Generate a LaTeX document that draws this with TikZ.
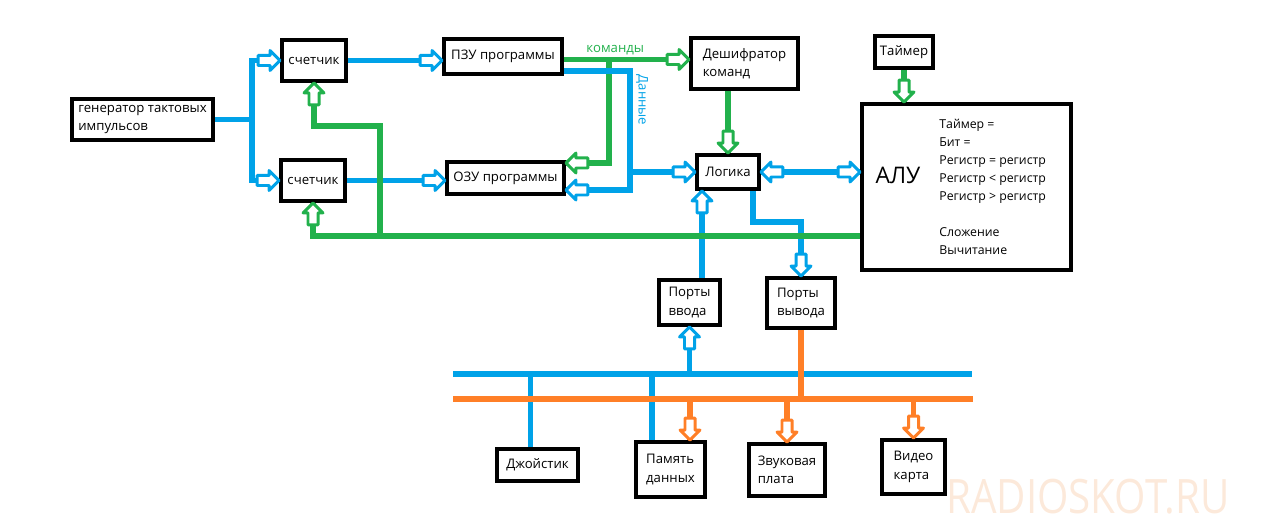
\documentclass[tikz,border=0pt]{standalone}
\usepackage{fontspec}
\setmainfont{Open Sans}
\usetikzlibrary{shapes.arrows, decorations.markings, calc}
\definecolor{lblue}{HTML}{00A2E8}
\definecolor{lgreen}{HTML}{22B14C}
\definecolor{lorange}{HTML}{FF7F27}
\definecolor{wmark}{HTML}{FCE9DA}
\newcommand{\boxfont}{\fontsize{7.5}{10.5}\selectfont}
\newcommand{\listfont}{\fontsize{7}{10.2}\selectfont}

\begin{document}
\begin{tikzpicture}[x=0.02cm, y=-0.02cm, font=\boxfont,
  block/.style={draw, line width=2.3pt, inner sep=1pt, align=left},
  pipe/.style={line width=3.2pt},
  bpipe/.style={pipe, color=lblue},
  gpipe/.style={pipe, color=lgreen},
  opipe/.style={pipe, color=lorange},
  hollowtip/.style={single arrow, transform shape, anchor=tip, fill=white,
    line width=1.7pt, line join=round, inner xsep=0pt, inner ysep=2pt,
    outer sep=0pt, single arrow head extend=2.8pt, minimum height=12.5pt,
    minimum width=0pt},
  ahead/.style={postaction={decorate, decoration={markings,
    mark=at position 1 with {\node[hollowtip, draw=#1] {};}}}},
  bhead/.style={ahead=#1, postaction={decorate, decoration={markings,
    mark=at position 0 with {\node[hollowtip, draw=#1, rotate=180] {};}}}}
]
    \useasboundingbox (0,0) rectangle (1280,523);

    % Blocks
    \node[block, minimum width=2.82cm, minimum height=0.82cm] (gen) at (142.5,119.5) {генератор тактовых\\импульсов};
    \node[block, minimum width=1.28cm, minimum height=0.82cm] (cnt1) at (314,60.5) {счетчик};
    \node[block, minimum width=1.28cm, minimum height=0.82cm] (cnt2) at (313,180.5) {счетчик};
    \node[block, minimum width=2.36cm, minimum height=0.70cm] (rom) at (503,56.5) {ПЗУ программы};
    \node[block, minimum width=2.34cm, minimum height=0.64cm] (ram) at (505.5,178) {ОЗУ программы};
    \node[block, minimum width=2.14cm, minimum height=1.02cm] (dec) at (744.5,63.5) {Дешифратор\\команд};
    \node[block, minimum width=1.16cm, minimum height=0.64cm] (timer) at (904,52) {Таймер};
    \node[block, minimum width=1.24cm, minimum height=0.68cm] (logic) at (728,172) {Логика};
    \node[block, minimum width=4.18cm, minimum height=3.32cm] (alu) at (966.5,187) {};
    \node[font=\fontsize{13}{15}\selectfont] (alutitle) at (898,175) {АЛУ};
    \node[font=\listfont, align=left, anchor=west, inner sep=0pt] (alulist) at (939,187)
        {Таймер =\\Бит =\\Регистр = регистр\\Регистр < регистр\\Регистр > регистр\\[10.2pt]Сложение\\Вычитание};

    % Ports and peripherals
    \node[block, minimum width=1.22cm, minimum height=0.90cm] (inports) at (689.5,302.5) {Порты\\ввода};
    \node[block, minimum width=1.36cm, minimum height=1.00cm] (outports) at (801,303) {Порты\\вывода};
    \node[block, minimum width=1.62cm, minimum height=0.64cm] (joy) at (537.5,465) {Джойстик};
    \node[block, minimum width=1.38cm, minimum height=1.10cm] (mem) at (670.5,469.5) {Память\\данных};
    \node[block, minimum width=1.52cm, minimum height=1.04cm] (sound) at (787,470) {Звуковая\\плата};
    \node[block, minimum width=1.26cm, minimum height=1.08cm] (video) at (913.5,467) {Видео\\карта};

    % Bus ends and taps
    \coordinate (bbL) at (453,374);
    \coordinate (bbR) at (972,374);
    \coordinate (obL) at (453,399);
    \coordinate (obR) at (973,399);
    \coordinate (fbup) at (380,126);
    \coordinate (joytap) at ($(joy.north)+(-7,0)$);
    \coordinate (memtap) at ($(mem.north)+(-18.5,0)$);
    \coordinate (memin) at ($(mem.north)+(19.5,0)$);
    \coordinate (inup) at ($(inports.north)+(12.5,0)$);

    % Commands branch (under the data line)
    \draw[gpipe, ahead=lgreen] ($(rom.east)+(0,3)$) coordinate (cmd) -- (cmd -| dec.west)
        node[pos=0.41, above, inner sep=1pt, text=lgreen] {команды};
    \draw[gpipe, ahead=lgreen] ($(cmd)+(45,0)$) |- ($(ram.east)+(0,-15)$);

    % Blue lines
    \draw[bpipe, ahead=lblue] (gen.east) -- ++(37,0) coordinate (clk) |- (cnt1);
    \draw[bpipe, ahead=lblue] (clk) |- (cnt2);
    \draw[bpipe, ahead=lblue] (cnt1.east) -- (cnt1.east -| rom.west);
    \draw[bpipe, ahead=lblue] (cnt2.east) -- (cnt2.east -| ram.west);
    \draw[bpipe, ahead=lblue] ($(rom.east)+(0,14.5)$) -- ++(66,0) coordinate (datbus) |- ($(ram.east)+(0,12)$);
    \node[rotate=-90, text=lblue] (datlbl) at (642,100) {Данные};
    \draw[bpipe, ahead=lblue] (datbus |- logic.west) -- (logic.west);
    \draw[bpipe, bhead=lblue] (logic.east) -- (logic.east -| alu.west);
    \draw[bpipe, ahead=lblue] ($(logic.south)+(25,0)$) -- ++(0,31) -| (outports.north);
    \draw[bpipe, ahead=lblue] (inup) -- (inup |- logic.south);
    \draw[bpipe] (bbL) -- (bbR);
    \draw[bpipe, ahead=lblue] (inports.south |- bbL) -- (inports.south);
    \draw[bpipe] (joytap) -- (joytap |- bbL);
    \draw[bpipe] (memtap) -- (memtap |- bbL);

    % Green lines
    \draw[gpipe, ahead=lgreen] (dec.south -| logic.north) -- (logic.north);
    \draw[gpipe, ahead=lgreen] (timer.south) -- (timer.south |- alu.north);
    \draw[gpipe, ahead=lgreen] ($(alu.west)+(0,49)$) coordinate (fb) -| (cnt2.south);
    \draw[gpipe, ahead=lgreen] (fb -| fbup) -- (fbup) -| (cnt1.south);

    % Orange lines
    \draw[opipe] (obL) -- (obR);
    \draw[opipe] (outports.south) -- (outports.south |- obL);
    \draw[opipe, ahead=lorange] (memin |- obL) -- (memin);
    \draw[opipe, ahead=lorange] (sound.north |- obL) -- (sound.north);
    \draw[opipe, ahead=lorange] (video.north |- obL) -- (video.north);

    % Watermark
    \node[text=wmark, font=\fontsize{27}{30}\selectfont, xscale=0.85] (wm) at (1088,497) {RADIOSKOT.RU};
\end{tikzpicture}
\end{document}
